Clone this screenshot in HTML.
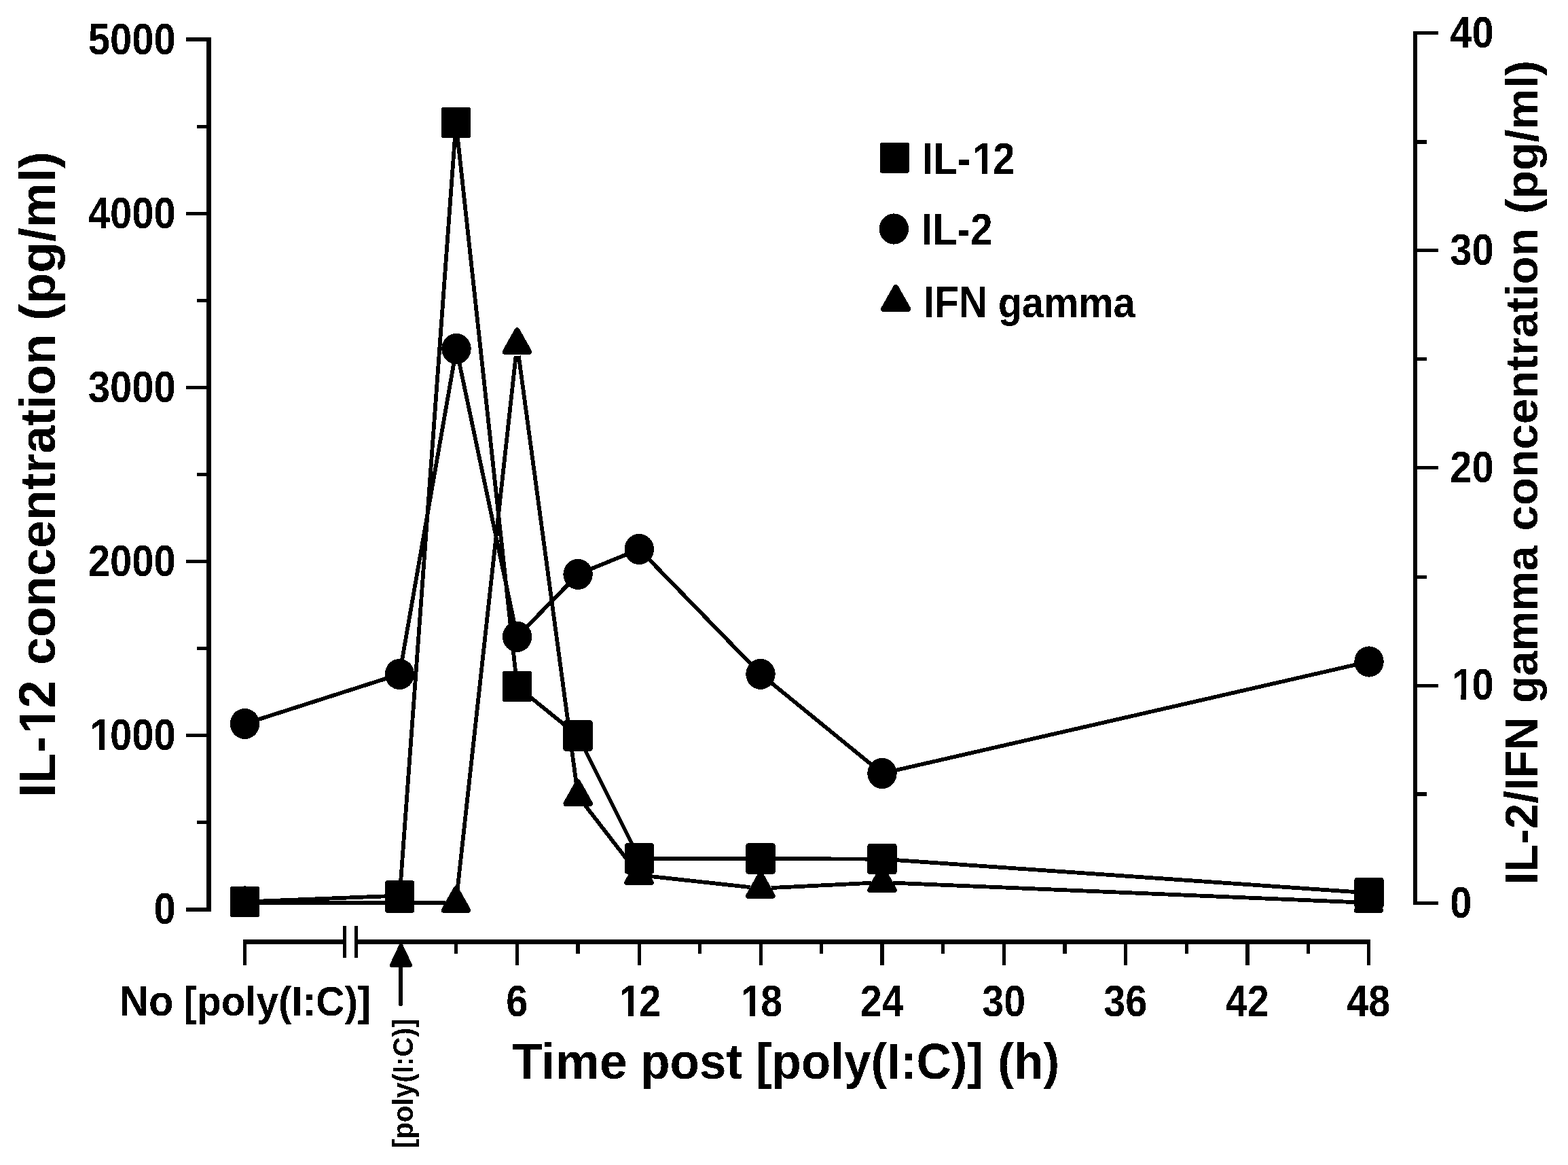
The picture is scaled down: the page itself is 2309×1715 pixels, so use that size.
<!DOCTYPE html>
<html lang="en">
<head>
<meta charset="utf-8">
<title>IL-12, IL-2 and IFN gamma concentration over time post [poly(I:C)]</title>
<style>
html,body{margin:0;padding:0;background:#fff;}
body{width:2309px;height:1715px;overflow:hidden;font-family:"Liberation Sans",sans-serif;}
svg{display:block;}
</style>
</head>
<body>
<svg width="2309" height="1715" viewBox="0 0 2309 1715" role="img" aria-label="Line chart of IL-12, IL-2 and IFN gamma concentration against time post [poly(I:C)]">
<defs><filter id="bw" x="0" y="0" width="2309" height="1715" filterUnits="userSpaceOnUse" color-interpolation-filters="sRGB"><feComponentTransfer><feFuncA type="discrete" tableValues="0 1"/></feComponentTransfer></filter></defs>
<rect width="2309" height="1715" fill="#fff"/>
<g fill="#000" shape-rendering="crispEdges">
<rect x="304" y="55" width="7" height="1287"/>
<rect x="274" y="55" width="31" height="6"/>
<rect x="290" y="184" width="15" height="5"/>
<rect x="274" y="312" width="31" height="5"/>
<rect x="290" y="440" width="15" height="5"/>
<rect x="274" y="568" width="31" height="5"/>
<rect x="290" y="696" width="15" height="5"/>
<rect x="274" y="824" width="31" height="5"/>
<rect x="290" y="952" width="15" height="5"/>
<rect x="274" y="1080" width="31" height="5"/>
<rect x="290" y="1208" width="15" height="5"/>
<rect x="274" y="1336" width="31" height="6"/>
<rect x="2081" y="46" width="6" height="1286"/>
<rect x="2086" y="46" width="32" height="5"/>
<rect x="2086" y="206" width="15" height="6"/>
<rect x="2086" y="366" width="32" height="5"/>
<rect x="2086" y="526" width="15" height="5"/>
<rect x="2086" y="686" width="32" height="5"/>
<rect x="2086" y="847" width="15" height="5"/>
<rect x="2086" y="1007" width="32" height="5"/>
<rect x="2086" y="1166" width="15" height="6"/>
<rect x="2086" y="1327" width="32" height="5"/>
<rect x="358" y="1383" width="148" height="7"/>
<rect x="526" y="1383" width="1492" height="7"/>
<rect x="505" y="1363" width="5" height="47"/>
<rect x="522" y="1363" width="5" height="47"/>
<rect x="358" y="1383" width="5" height="38"/>
<rect x="669" y="1386" width="5" height="18"/>
<rect x="759" y="1386" width="5" height="35"/>
<rect x="848" y="1386" width="6" height="18"/>
<rect x="939" y="1386" width="5" height="35"/>
<rect x="1028" y="1386" width="5" height="18"/>
<rect x="1118" y="1386" width="5" height="35"/>
<rect x="1207" y="1386" width="5" height="18"/>
<rect x="1296" y="1386" width="6" height="35"/>
<rect x="1386" y="1386" width="5" height="18"/>
<rect x="1476" y="1386" width="5" height="35"/>
<rect x="1565" y="1386" width="6" height="18"/>
<rect x="1655" y="1386" width="5" height="35"/>
<rect x="1745" y="1386" width="5" height="18"/>
<rect x="1834" y="1386" width="6" height="35"/>
<rect x="1924" y="1386" width="5" height="18"/>
<rect x="2013" y="1386" width="5" height="35"/>
</g>
<g shape-rendering="crispEdges">
<path d="M590.45 1392L604 1420.8L576.9 1420.8Z" fill="#000" stroke="#000" stroke-width="6" stroke-linejoin="round"/>
<path d="M590.1 1420L590.1 1478.3" stroke="#000" stroke-width="5.6" stroke-linecap="round" fill="none"/>
</g>
<g shape-rendering="crispEdges">
<path d="M376.1 1329L573 1329M604.2 1329L655.9 1329M673.35 1312.12L759.65 523.88M763.77 523.82L848.93 1155.18M861.25 1185L930.95 1275.2M956.52 1289.9L1104.48 1306.1M1135.58 1307.03L1283.42 1299.77M1314.59 1299.65L1999.91 1328.35" stroke="#000" stroke-width="5.8" fill="none"/>
<path d="M375.47 1060.71L573.43 997.29M591.31 975.8L669.09 530.2M675.5 530.07L758.1 920.83M772.95 925.74L839.75 857.06M865.7 839.43L926.7 814.47M952.64 820.17L1108.66 980.63M1132.48 1002.5L1286.52 1128.3M1314.27 1135L2000.73 977.5" stroke="#000" stroke-width="5.8" fill="none"/>
<path d="M376.09 1326.88L573.01 1319.12M589.83 1301.55L670.27 197.45M673.33 197.38L759.67 993.62M774.02 1020.64L838.48 1072.86M858.46 1097.93L934.04 1249.07M957.1 1264L1104.4 1264M1135.6 1264.06L1283.4 1264.64M1314.57 1265.78L2000.43 1313.42" stroke="#000" stroke-width="5.8" fill="none"/>
<path d="M360.5 1308.2L378.25 1340L342.75 1340Z" fill="#000" stroke="#000" stroke-width="8.0" stroke-linejoin="round"/>
<path d="M588.6 1308.2L606.35 1340L570.85 1340Z" fill="#000" stroke="#000" stroke-width="8.0" stroke-linejoin="round"/>
<path d="M671.5 1308.2L689.25 1340L653.75 1340Z" fill="#000" stroke="#000" stroke-width="8.0" stroke-linejoin="round"/>
<path d="M761.5 486.2L779.25 518L743.75 518Z" fill="#000" stroke="#000" stroke-width="8.0" stroke-linejoin="round"/>
<path d="M851.2 1151.2L868.95 1183L833.45 1183Z" fill="#000" stroke="#000" stroke-width="8.0" stroke-linejoin="round"/>
<path d="M941 1267.4L958.75 1299.2L923.25 1299.2Z" fill="#000" stroke="#000" stroke-width="8.0" stroke-linejoin="round"/>
<path d="M1120 1287L1137.75 1318.8L1102.25 1318.8Z" fill="#000" stroke="#000" stroke-width="8.0" stroke-linejoin="round"/>
<path d="M1299 1278.2L1316.75 1310L1281.25 1310Z" fill="#000" stroke="#000" stroke-width="8.0" stroke-linejoin="round"/>
<path d="M2015.5 1308.2L2033.25 1340L1997.75 1340Z" fill="#000" stroke="#000" stroke-width="8.0" stroke-linejoin="round"/>
<ellipse cx="360.5" cy="1065.5" rx="21.7" ry="22.6" fill="#000"/>
<ellipse cx="588.4" cy="992.5" rx="21.7" ry="22.6" fill="#000"/>
<ellipse cx="672" cy="513.5" rx="21.7" ry="22.6" fill="#000"/>
<ellipse cx="761.6" cy="937.4" rx="21.7" ry="22.6" fill="#000"/>
<ellipse cx="851.1" cy="845.4" rx="21.7" ry="22.6" fill="#000"/>
<ellipse cx="941.3" cy="808.5" rx="21.7" ry="22.6" fill="#000"/>
<ellipse cx="1120" cy="992.3" rx="21.7" ry="22.6" fill="#000"/>
<ellipse cx="1299" cy="1138.5" rx="21.7" ry="22.6" fill="#000"/>
<ellipse cx="2016" cy="974" rx="21.7" ry="22.6" fill="#000"/>
<rect x="338.85" y="1304.8" width="43.3" height="45.4" rx="4.0" ry="4.0" fill="#000"/>
<rect x="566.95" y="1296" width="43.3" height="48" rx="4.0" ry="4.0" fill="#000"/>
<rect x="649.85" y="157.8" width="43.3" height="45.4" rx="4.0" ry="4.0" fill="#000"/>
<rect x="739.85" y="987.8" width="43.3" height="45.4" rx="4.0" ry="4.0" fill="#000"/>
<rect x="829.35" y="1060.3" width="43.3" height="45.4" rx="4.0" ry="4.0" fill="#000"/>
<rect x="919.85" y="1241.3" width="43.3" height="45.4" rx="4.0" ry="4.0" fill="#000"/>
<rect x="1098.35" y="1241.3" width="43.3" height="45.4" rx="4.0" ry="4.0" fill="#000"/>
<rect x="1277.35" y="1242" width="43.3" height="45.4" rx="4.0" ry="4.0" fill="#000"/>
<rect x="1994.35" y="1291.8" width="43.3" height="45.4" rx="4.0" ry="4.0" fill="#000"/>
<rect x="1295.85" y="209.7" width="43.3" height="45.4" rx="4.0" ry="4.0" fill="#000"/>
<ellipse cx="1316.4" cy="337" rx="21.7" ry="22.6" fill="#000"/>
<path d="M1319.2 423L1337.25 454.8L1301.15 454.8Z" fill="#000" stroke="#000" stroke-width="8.0" stroke-linejoin="round"/>
</g>
<g font-family="'Liberation Sans', sans-serif" font-weight="bold" font-size="100px" fill="#000" filter="url(#bw)">
<text transform="matrix(0.58 0 0 0.65 129.84 80)">5000</text>
<text transform="matrix(0.58 0 0 0.65 129.84 336)">4000</text>
<text transform="matrix(0.58 0 0 0.65 129.84 592)">3000</text>
<text transform="matrix(0.58 0 0 0.65 129.84 848)">2000</text>
<text transform="matrix(0.58 0 0 0.65 132.57 1104)">1</text>
<text transform="matrix(0.58 0 0 0.65 162.1 1104)">000</text>
<text transform="matrix(0.58 0 0 0.65 226.62 1360)">0</text>
<text transform="matrix(0.58 0 0 0.65 2135.2 70)">40</text>
<text transform="matrix(0.58 0 0 0.65 2135.2 390)">30</text>
<text transform="matrix(0.58 0 0 0.65 2135.2 710)">20</text>
<text transform="matrix(0.58 0 0 0.65 2137.93 1030)">1</text>
<text transform="matrix(0.58 0 0 0.65 2167.46 1030)">0</text>
<text transform="matrix(0.58 0 0 0.65 2135.2 1351)">0</text>
<text transform="matrix(0.575 0 0 0.65 745.31 1496)">6</text>
<text transform="matrix(0.575 0 0 0.65 912.02 1496)">1</text>
<text transform="matrix(0.575 0 0 0.65 941.3 1496)">2</text>
<text transform="matrix(0.575 0 0 0.65 1091.02 1496)">1</text>
<text transform="matrix(0.575 0 0 0.65 1120.3 1496)">8</text>
<text transform="matrix(0.575 0 0 0.65 1266.82 1496)">24</text>
<text transform="matrix(0.575 0 0 0.65 1446.32 1496)">30</text>
<text transform="matrix(0.575 0 0 0.65 1625.32 1496)">36</text>
<text transform="matrix(0.575 0 0 0.65 1804.82 1496)">42</text>
<text transform="matrix(0.575 0 0 0.65 1983.32 1496)">48</text>
<text transform="matrix(0.5981 0 0 0.6325 175.8 1495)">No</text>
<text transform="matrix(0.5844 0 0 0.615 270.51 1495)">[poly(I:C)]</text>
<text transform="matrix(0.7333 0 0 0.745 753.87 1588)">Time</text>
<text transform="matrix(0.7102 0 0 0.745 943.18 1588)">post</text>
<text transform="matrix(0.7099 0 0 0.745 1112.91 1588)">[poly(I:C)]</text>
<text transform="matrix(0.7138 0 0 0.745 1469.13 1588)">(h)</text>
<text transform="matrix(0.585 0 0 0.65 1357.98 256)">IL-</text>
<text transform="matrix(0.585 0 0 0.65 1432.2 256)">1</text>
<text transform="matrix(0.585 0 0 0.65 1461.99 256)">2</text>
<text transform="matrix(0.588 0 0 0.65 1357.06 360)">IL-2</text>
<text transform="matrix(0.5865 0 0 0.65 1359.77 467)">IFN</text>
<text transform="matrix(0.5767 0 0 0.6325 1469.63 467)">gamma</text>
<text transform="matrix(0 -0.7379 0.763 0 80.8 1173.74)">IL-</text>
<text transform="matrix(0 -0.7379 0.763 0 80.8 1080.12)">1</text>
<text transform="matrix(0 -0.7379 0.763 0 80.8 1042.55)">2</text>
<text transform="matrix(0 -0.7368 0.74 0 80.8 978.88)">concentration</text>
<text transform="matrix(0 -0.7473 0.74 0 80.8 472.24)">(pg/ml)</text>
<text transform="matrix(0 -0.6734 0.693 0 2263.9 1302.51)">IL-2/IFN</text>
<text transform="matrix(0 -0.6612 0.67 0 2263.9 1035.32)">gamma</text>
<text transform="matrix(0 -0.6736 0.67 0 2263.9 781.54)">concentration</text>
<text transform="matrix(0 -0.6789 0.67 0 2263.9 315.09)">(pg/ml)</text>
<text transform="matrix(0 -0.404 0.42 0 607.9 1690.27)">[poly(I:C)]</text>
</g>
<g fill="#fff" shape-rendering="crispEdges">
<rect x="136" y="1091" width="10" height="15"/>
<rect x="154" y="1091" width="10" height="15"/>
<rect x="2141" y="1017" width="10" height="15"/>
<rect x="2159" y="1017" width="10" height="15"/>
<rect x="915" y="1483" width="10" height="15"/>
<rect x="933" y="1483" width="10" height="15"/>
<rect x="1094" y="1483" width="10" height="15"/>
<rect x="1112" y="1483" width="10" height="15"/>
<rect x="1435" y="243" width="11" height="15"/>
<rect x="1454" y="243" width="10" height="15"/>
<rect x="65" y="1041" width="18" height="12"/>
<rect x="65" y="1063" width="18" height="13"/>
</g>
</svg>
</body>
</html>
